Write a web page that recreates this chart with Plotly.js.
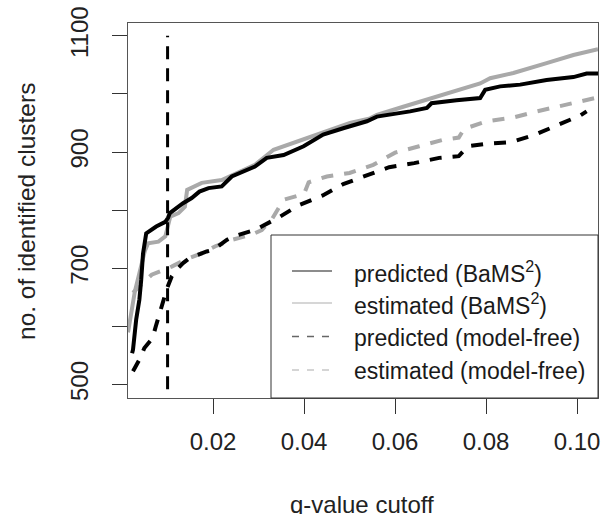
<!DOCTYPE html>
<html>
<head>
<meta charset="utf-8">
<script src="https://cdn.plot.ly/plotly-3.0.1.min.js"></script>
<style>
html,body{margin:0;padding:0;background:#fff;}
#chart{width:605px;height:514px;}
</style>
</head>
<body>
<div id="chart"></div>
<script>
// ---- data ----
var predBamsQ = [0.0022,0.0024,0.0031,0.0038,0.0042,0.0046,0.0053,0.0075,0.0095,0.0101,0.0105,0.0120,0.0134,0.0153,0.0170,0.0190,0.0219,0.0241,0.0265,0.0292,0.0318,0.0355,0.0399,0.0442,0.0486,0.0538,0.0560,0.0589,0.0633,0.0670,0.0680,0.0735,0.0787,0.0798,0.0831,0.0875,0.0933,0.0992,0.1021,0.1046];
var predBamsV = [554,560,612,646,680,725,760,772,780,787,795,804,812,821,832,838,841,858,866,875,890,895,910,930,941,953,961,964,970,976,984,989,993,1007,1013,1016,1024,1029,1035,1035];

var estBamsQ = [0.0013,0.0020,0.0028,0.0036,0.0045,0.0050,0.0057,0.0080,0.0095,0.0106,0.0124,0.0138,0.0143,0.0175,0.0219,0.0255,0.0292,0.0333,0.0384,0.0442,0.0501,0.0545,0.0560,0.0618,0.0692,0.0750,0.0787,0.0809,0.0860,0.0933,0.0992,0.1046];
var estBamsV = [590,625,660,685,715,730,743,746,755,789,795,806,835,847,852,865,878,904,918,935,950,958,964,978,996,1010,1018,1027,1036,1053,1067,1077];

var predFreeQ = [0.0024,0.0038,0.0049,0.0067,0.0074,0.0081,0.0092,0.0099,0.0109,0.0120,0.0134,0.0149,0.0186,0.0201,0.0230,0.0245,0.0292,0.0343,0.0387,0.0440,0.0486,0.0536,0.0552,0.0587,0.0642,0.0697,0.0740,0.0760,0.0798,0.0855,0.0908,0.0958,0.1007,0.1021];
var predFreeV = [523,543,563,580,600,620,652,666,686,698,709,718,729,732,749,755,766,787,808,825,845,859,864,874,881,890,893,910,914,917,930,947,963,970];

var estFreeQ = [0.0024,0.0046,0.0065,0.0084,0.0109,0.0139,0.0176,0.0205,0.0241,0.0285,0.0307,0.0329,0.0355,0.0400,0.0410,0.0450,0.0500,0.0552,0.0600,0.0653,0.0705,0.0740,0.0752,0.0802,0.0862,0.0912,0.0965,0.1022,0.1040];
var estFreeV = [658,675,689,695,703,715,726,738,749,758,766,784,818,828,848,858,864,878,899,910,921,925,940,953,960,970,980,990,993];

var cutoffQ = [0.01, 0.01];
var cutoffV = [0, 1100];

var xTickVals = [0.02, 0.04, 0.06, 0.08, 0.10];
var xTickText = ['0.02', '0.04', '0.06', '0.08', '0.10'];
var yTickVals = [500, 600, 700, 800, 900, 1000, 1100];
var yTickText = ['500', '', '700', '', '900', '', '1100'];

var legendLabels = ['predicted (BaMS<sup>2</sup>)', 'estimated (BaMS<sup>2</sup>)',
                    'predicted (model-free)', 'estimated (model-free)'];

// ---- styles ----
var BLACK = '#000000', GRAY = '#a9a9a9';
var FONT = 'Liberation Sans, Arial, Helvetica, sans-serif';

var traces = [
  {x: estFreeQ, y: estFreeV, mode: 'lines', line: {color: GRAY, width: 4, dash: '12px,11px'}, hoverinfo: 'skip'},
  {x: predFreeQ, y: predFreeV, mode: 'lines', line: {color: BLACK, width: 4, dash: '12px,11px'}, hoverinfo: 'skip'},
  {x: estBamsQ, y: estBamsV, mode: 'lines', line: {color: GRAY, width: 4}, hoverinfo: 'skip'},
  {x: predBamsQ, y: predBamsV, mode: 'lines', line: {color: BLACK, width: 4}, hoverinfo: 'skip'},
  {x: cutoffQ, y: cutoffV, mode: 'lines', line: {color: BLACK, width: 3, dash: '13px,9px'}, hoverinfo: 'skip'}
];

// plot area in pixels: x 128..598, y 23..398
function px(x) { return (x - 128) / 470; }
function py(y) { return (398 - y) / 375; }

var legendRows = [271, 303, 336.5, 370];
var legendColors = ['#666666', '#c8c8c8', '#666666', '#c8c8c8'];
var legendDash = ['solid', 'solid', '7px,8px', '7px,8px'];

var shapes = [
  {type: 'rect', xref: 'paper', yref: 'paper', x0: px(271), x1: 1, y0: 0, y1: py(235),
   line: {color: '#333', width: 1}, fillcolor: 'rgba(255,255,255,0)'}
];
var annotations = [
  {xref: 'paper', yref: 'paper', x: px(26), y: py(212), text: 'no. of identified clusters',
   textangle: -90, showarrow: false, xanchor: 'center', yanchor: 'middle',
   font: {family: FONT, size: 24.5, color: '#222'}},
  {xref: 'paper', yref: 'paper', x: px(362), y: py(489), text: 'q-value cutoff',
   showarrow: false, xanchor: 'center', yanchor: 'top',
   font: {family: FONT, size: 24, color: '#222'}}
];
for (var i = 0; i < legendLabels.length; i++) {
  shapes.push({type: 'line', xref: 'paper', yref: 'paper', x0: px(292), x1: px(332),
    y0: py(legendRows[i]), y1: py(legendRows[i]),
    line: {color: legendColors[i], width: 1.3, dash: legendDash[i]}});
  annotations.push({xref: 'paper', yref: 'paper', x: px(352), y: py(legendRows[i] + 1),
    text: legendLabels[i], showarrow: false, xanchor: 'left', yanchor: 'middle',
    font: {family: FONT, size: 23, color: '#1a1a1a'}});
}

var layout = {
  width: 605, height: 514,
  margin: {l: 128, r: 7, t: 23, b: 116, pad: 0},
  paper_bgcolor: '#fff', plot_bgcolor: '#fff',
  showlegend: false,
  xaxis: {
    range: [0.0013, 0.1046], tickvals: xTickVals, ticktext: xTickText,
    ticks: 'outside', ticklen: 15, tickwidth: 1, tickcolor: '#333',
    ticklabelstandoff: 7,
    showline: true, mirror: true, linecolor: '#555', linewidth: 1,
    showgrid: false, zeroline: false,
    tickfont: {family: FONT, size: 24, color: '#222'}
  },
  yaxis: {
    range: [477, 1122], tickvals: yTickVals, ticktext: yTickText,
    ticks: 'outside', ticklen: 15, tickwidth: 1, tickcolor: '#333', tickangle: -90,
    ticklabelstandoff: 14,
    showline: true, mirror: true, linecolor: '#555', linewidth: 1,
    showgrid: false, zeroline: false,
    tickfont: {family: FONT, size: 24, color: '#222'}
  },
  shapes: shapes,
  annotations: annotations
};

Plotly.newPlot('chart', traces, layout, {displayModeBar: false, staticPlot: true});
</script>
</body>
</html>
